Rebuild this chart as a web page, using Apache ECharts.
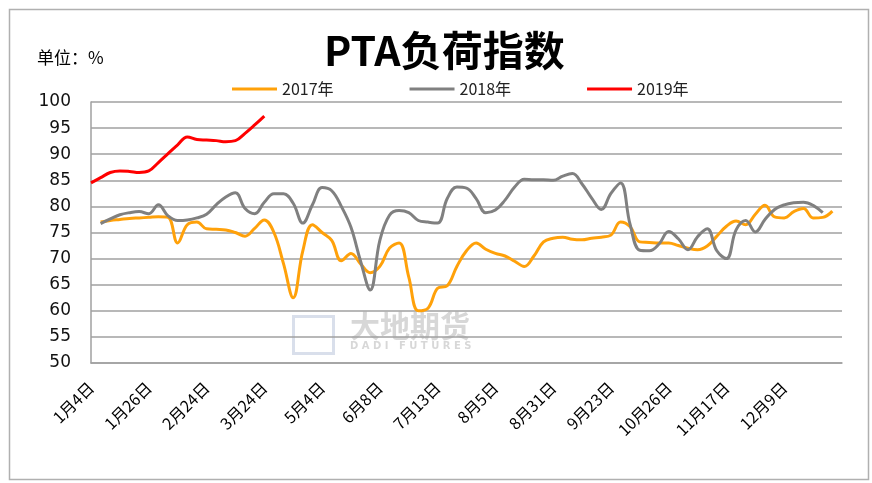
<!DOCTYPE html>
<html lang="zh">
<head>
    <meta charset="UTF-8">
    <title>PTA负荷指数</title>
    <script src="https://cdn.jsdelivr.net/npm/echarts/dist/echarts.min.js"></script>
    <style>
        html, body { margin: 0; padding: 0; background: #fff; }
    </style>
</head>
<body>
<div id="main" style="width: 872px;height:483px;"></div>
<script>
    // 日期（每6个显示一个）
    var categories = [
        '1月4日','1月8日','1月11日','1月15日','1月18日','1月22日',
        '1月26日','1月31日','2月3日','2月12日','2月15日','2月19日',
        '2月24日','3月1日','3月5日','3月8日','3月12日','3月17日',
        '3月24日','3月29日','4月4日','4月12日','4月19日','4月26日',
        '5月4日','5月10日','5月17日','5月24日','5月29日','6月1日',
        '6月8日','6月14日','6月21日','6月28日','7月3日','7月6日',
        '7月13日','7月17日','7月20日','7月24日','7月27日','7月31日',
        '8月5日','8月10日','8月14日','8月17日','8月21日','8月24日',
        '8月31日','9月4日','9月7日','9月11日','9月14日','9月18日',
        '9月23日','9月28日','10月8日','10月12日','10月17日','10月19日',
        '10月26日','10月30日','11月2日','11月6日','11月9日','11月13日',
        '11月17日','11月20日','11月23日','11月27日','11月30日','12月4日',
        '12月9日','12月11日','12月14日','12月18日','12月21日','12月25日','12月28日'
    ];

    var data2017 = [null, 77.0, 77.3, 77.5, 77.7, 77.8, 77.9, 78.0, 77.9, 73.0,
        76.5, 77.0, 75.7, 75.6, 75.5, 75.0, 74.3, 75.8, 77.4, 75.0,
        69.0, 62.5, 71.5, 76.5, 75.0, 73.5, 69.6, 71.0, 69.0, 67.3,
        68.5, 72.0, 73.0, 66.5, 60.0, 60.5, 64.3, 64.8, 68.5, 71.5,
        73.0, 71.8, 71.0, 70.5, 69.5, 68.5, 70.5, 73.2, 73.9, 74.1,
        73.7, 73.6, 73.9, 74.1, 74.5, 77.0, 76.1, 73.2, 73.1, 73.0,
        73.0, 72.5, 72.0, 71.7, 72.4, 74.3, 76.2, 77.2, 76.5, 78.5,
        80.2, 78.0, 77.8, 79.0, 79.6, 77.8, 77.9, 79.1, null];

    var data2018 = [null, 76.7, 77.6, 78.4, 78.8, 79.0, 78.6, 80.3, 78.2, 77.3,
        77.4, 77.8, 78.5, 80.3, 81.8, 82.6, 79.6, 78.6, 80.8, 82.4,
        82.4, 80.6, 76.8, 80.3, 83.6, 83.0, 80.0, 76.0, 69.5, 64.0,
        73.5, 78.3, 79.2, 78.8, 77.3, 77.0, 76.8, 81.5, 83.7, 83.5,
        81.5, 78.8, 79.3, 81.2, 83.7, 85.2, 85.1, 85.1, 85.0, 85.8,
        86.3, 84.3, 81.6, 79.4, 82.5, 84.5, 76.5, 71.6, 71.5, 72.8,
        75.2, 73.8, 71.7, 74.2, 75.7, 71.5, 70.0, 75.5, 77.3, 75.1,
        77.5, 79.4, 80.3, 80.7, 80.8, 80.2, 78.8, null, null];

    var data2019 = [84.5, 85.5, 86.5, 86.8, 86.7, 86.5, 86.8, 88.4, 90.1, 91.8,
        93.3, 92.8, 92.7, 92.6, 92.4, 92.6, 94.0, 95.6, 97.3];

    var yTicks = { min: 50, max: 100, step: 5 };

    var myChart = echarts.init(document.getElementById('main'));
    var option = {
        backgroundColor: '#fff',
        animation: false,
        title: {
            text: 'PTA负荷指数',
            left: 319,
            top: 25,
            textStyle: {
                fontFamily: 'Noto Sans CJK SC',
                fontSize: 41,
                fontWeight: 'bold',
                color: '#000'
            }
        },
        legend: {
            data: ['2017年', '2018年', '2019年'],
            left: 227,
            top: 76,
            itemWidth: 45,
            itemHeight: 3,
            itemGap: 76,
            icon: 'rect',
            textStyle: {
                fontFamily: 'Noto Sans CJK SC',
                fontSize: 16,
                color: '#222'
            }
        },
        graphic: [
            {
                type: 'rect',
                left: 7, top: 7,
                shape: { width: 859, height: 470 },
                style: { fill: 'none', stroke: '#b0b0b0', lineWidth: 1.5 },
                silent: true
            },
            {
                type: 'text',
                left: 37, top: 49,
                style: {
                    text: '单位：%',
                    font: '17px "Noto Sans CJK SC"',
                    fill: '#000'
                }
            },
            {
                type: 'rect',
                left: 291, top: 314,
                shape: { width: 40, height: 37 },
                style: { fill: 'none', stroke: 'rgba(170,185,210,0.45)', lineWidth: 3 },
                z: 0
            },
            {
                type: 'text',
                left: 350, top: 311,
                style: {
                    text: '大地期货',
                    font: 'bold 30px "Noto Sans CJK SC"',
                    fill: 'rgba(140,140,140,0.35)'
                },
                z: 0
            },
            {
                type: 'text',
                left: 350, top: 341,
                style: {
                    text: 'D A D I   F U T U R E S',
                    font: 'bold 10px "DejaVu Sans"',
                    fill: 'rgba(140,140,140,0.35)'
                },
                z: 0
            }
        ],
        grid: {
            left: 91,
            right: 30,
            top: 102,
            bottom: 120,
            containLabel: false
        },
        xAxis: {
            type: 'category',
            data: categories,
            boundaryGap: false,
            axisLine: { show: true, lineStyle: { color: '#a0a0a0', width: 1.5 } },
            axisTick: { show: false },
            axisLabel: {
                interval: function (idx) { return idx % 6 === 0 && idx <= 72; },
                rotate: 45,
                margin: 22,
                fontFamily: 'Noto Sans CJK SC',
                fontSize: 16,
                color: '#000'
            },
            splitLine: { show: false }
        },
        yAxis: {
            type: 'value',
            min: yTicks.min,
            max: yTicks.max,
            interval: yTicks.step,
            axisLine: { show: true, lineStyle: { color: '#a0a0a0', width: 1.5 } },
            axisTick: { show: false },
            axisLabel: {
                margin: 20,
                fontFamily: 'DejaVu Sans',
                fontSize: 17,
                color: '#111'
            },
            splitLine: { show: true, lineStyle: { color: '#a0a0a0', width: 1.5 } }
        },
        series: [
            {
                name: '2017年',
                type: 'line',
                data: data2017,
                smooth: 0.4,
                showSymbol: false,
                lineStyle: { color: '#ffa10a', width: 3 },
                itemStyle: { color: '#ffa10a' }
            },
            {
                name: '2018年',
                type: 'line',
                data: data2018,
                smooth: 0.4,
                showSymbol: false,
                lineStyle: { color: '#808080', width: 3 },
                itemStyle: { color: '#808080' }
            },
            {
                name: '2019年',
                type: 'line',
                data: data2019,
                smooth: 0.4,
                showSymbol: false,
                lineStyle: { color: '#ff0000', width: 3 },
                itemStyle: { color: '#ff0000' }
            }
        ]
    };
    myChart.setOption(option);
</script>
</body>
</html>
